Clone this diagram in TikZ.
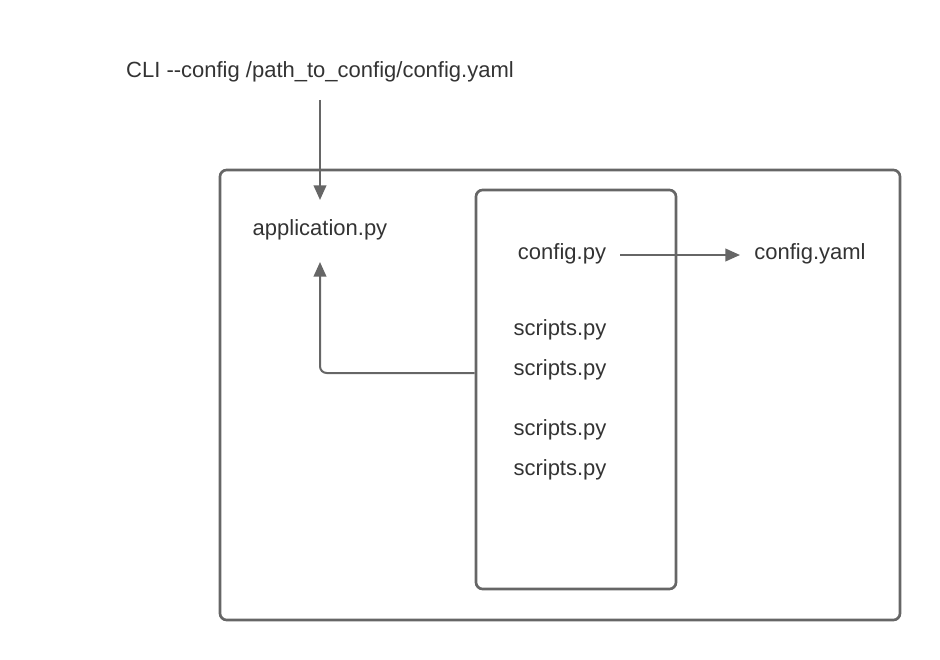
\documentclass[tikz,border=0pt]{standalone}
\usepackage{fontspec}
\setmainfont{Liberation Sans}
\usetikzlibrary{arrows.meta}
\definecolor{linec}{HTML}{666666}
\definecolor{textc}{HTML}{333333}
\begin{document}
\begin{tikzpicture}[x=0.75pt,y=-0.75pt,
  lbl/.style={text=textc,font=\fontsize{16.5}{19}\selectfont,inner sep=0pt,anchor=center},
  boxst/.style={draw=linec,line width=2pt,rounded corners=5pt},
  conn/.style={draw=linec,line width=1.5pt,-{Triangle[length=11pt,width=9.5pt]}}]
\useasboundingbox (0,0) rectangle (940,660);
\draw[boxst] (220,170) rectangle (900,620);
\node[boxst,minimum width=200*0.75pt,minimum height=399*0.75pt,inner sep=0pt] (inner) at (576,389.5) {};
\node[lbl] (cli) at (320,72) {CLI -{}-config /path\_to\_config/config.yaml};
\node[lbl] (app) at (320,230) {application.py};
\node[lbl] (cfgpy) at (562,254) {config.py};
\node[lbl] (cfgyaml) at (810,254) {config.yaml};
\node[lbl] (s1) at (560,330) {scripts.py};
\node[lbl] (s2) at (560,370) {scripts.py};
\node[lbl] (s3) at (560,430) {scripts.py};
\node[lbl] (s4) at (560,470) {scripts.py};
\coordinate (cliend) at (320,100);
\coordinate (apptop) at (320,200);
\coordinate (appbot) at (320,262);
\coordinate (cfgstart) at (620,255);
\coordinate (cfgend) at (740,255);
\draw[conn] (cliend) -- (apptop);
\draw[conn] (cfgstart) -- (cfgend);
\draw[conn,rounded corners=5pt] (inner.west |- 0,373) -- (320,373) -- (appbot);
\end{tikzpicture}
\end{document}
